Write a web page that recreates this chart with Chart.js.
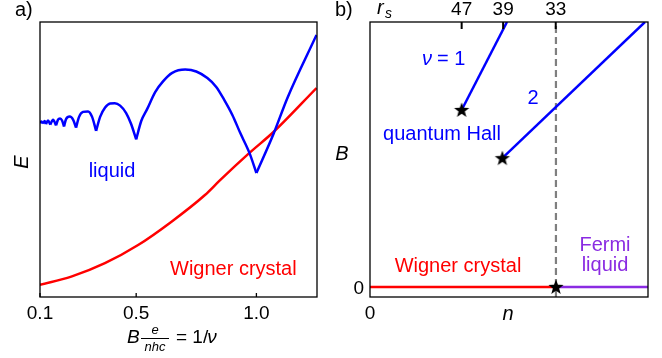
<!DOCTYPE html>
<html>
<head>
<meta charset="utf-8">
<script src="https://cdn.jsdelivr.net/npm/chart.js@4.4.1/dist/chart.umd.min.js"></script>
<style>
  body { margin: 0; background: #fff; }
  #wrap { display: flex; width: 662px; height: 358px; }
  canvas { display: block; }
</style>
</head>
<body>
<div id="wrap">
  <canvas id="panel-a" width="331" height="358"></canvas>
  <canvas id="panel-b" width="331" height="358"></canvas>
</div>
<script>
// a) energy of the two phases against 1/nu
const liquidX = [0.1, 0.106, 0.1125, 0.1196, 0.125, 0.1333, 0.1429, 0.1542, 0.1667, 0.175, 0.1833, 0.1917,
  0.2, 0.2083, 0.2238, 0.2375, 0.25, 0.2625, 0.279, 0.3, 0.3167, 0.3333, 0.35, 0.3708, 0.3917, 0.411,
  0.4333, 0.4583, 0.479, 0.5, 0.521, 0.546, 0.579, 0.6125, 0.65, 0.704, 0.75, 0.796, 0.833, 0.8667,
  0.9, 0.933, 0.971, 1.0, 1.071, 1.129, 1.25];
const liquidE = [6.33, 6.38, 6.31, 6.40, 6.29, 6.42, 6.27, 6.45, 6.24, 6.45, 6.49, 6.42,
  6.20, 6.47, 6.56, 6.45, 6.16, 6.55, 6.73, 6.75, 6.55, 6.04, 6.55, 6.89, 7.04, 7.05,
  6.96, 6.69, 6.29, 5.73, 6.40, 6.84, 7.45, 7.85, 8.15, 8.27, 8.20, 7.96, 7.64, 7.16,
  6.62, 5.96, 5.24, 4.51, 5.93, 7.24, 9.53];
// cusps of the liquid curve (integer filling), curve is smooth in between
const cuspX = [0.1125, 0.125, 0.1429, 0.1667, 0.2, 0.25, 0.3333, 0.5, 1.0];
const crystalX = [0.1, 0.23, 0.37, 0.508, 0.647, 0.786, 0.849, 0.971, 1.071, 1.25];
const crystalE = [0.44, 0.74, 1.23, 1.89, 2.74, 3.71, 4.25, 5.24, 6.0, 7.6];
const ticksA = [0.1, 0.5, 1.0];

// b) phase diagram in the (n, B) plane
const rsLabels = ['47', '39', '33'];
const rsN = [4.53, 6.58, 9.18];
const nu1N = [4.53, 6.77];
const nu1B = [6.68, 10.0];
const nu2N = [6.54, 13.59];
const nu2B = [4.86, 10.0];
const wignerN = [0, 9.19];
const fermiN = [9.19, 13.74];
const starN = [4.53, 6.54, 9.19];
const starB = [6.68, 4.86, 0];
const nCrit = 9.19;

const FONT = '"Liberation Sans", Arial, sans-serif';
const BLUE = '#0000ff';
const RED = '#ff0000';
const PURPLE = '#8a2be2';

const pts = (xs, ys) => xs.map((x, i) => ({ x: x, y: ys[i] }));

// cut the liquid curve into arches between cusps
function arches() {
    const all = pts(liquidX, liquidE);
    const out = [];
    let cur = [];
    all.forEach(p => {
        cur.push(p);
        if (cuspX.includes(p.x)) {
            out.push(cur);
            cur = [p];
        }
    });
    if (cur.length > 1) out.push(cur);
    return out;
}

function makeStar(size, R, r) {
    const c = document.createElement('canvas');
    c.width = c.height = size;
    const g = c.getContext('2d');
    g.beginPath();
    for (let i = 0; i < 10; i++) {
        const rad = i % 2 ? r : R;
        const a = -Math.PI / 2 + i * Math.PI / 5;
        g.lineTo(size / 2 + rad * Math.cos(a), size / 2 + 0.5 + rad * Math.sin(a));
    }
    g.closePath();
    g.fillStyle = '#000';
    g.fill();
    return c;
}

function text(ctx, str, x, y, font, color, align) {
    ctx.font = font;
    ctx.fillStyle = color;
    ctx.textAlign = align || 'left';
    ctx.textBaseline = 'alphabetic';
    ctx.fillText(str, x, y);
}

function drawFrame(ctx, a) {
    ctx.strokeStyle = '#000';
    ctx.lineWidth = 1.3;
    ctx.strokeRect(a.left, a.top, a.right - a.left, a.bottom - a.top);
}

const baseOptions = (xmin, xmax, ymin, ymax, pad) => ({
    responsive: false,
    animation: false,
    layout: { padding: pad },
    plugins: { legend: { display: false }, tooltip: { enabled: false } },
    scales: {
        x: { type: 'linear', min: xmin, max: xmax, display: false },
        y: { type: 'linear', min: ymin, max: ymax, display: false }
    }
});

// panel a decorations
const decorA = {
    id: 'decorA',
    afterDraw(chart) {
        const { ctx, chartArea: a, scales: { x } } = chart;
        ctx.save();
        drawFrame(ctx, a);
        ticksA.forEach(v => {
            const px = x.getPixelForValue(v);
            ctx.beginPath();
            ctx.moveTo(px, a.bottom);
            ctx.lineTo(px, a.bottom - 4);
            ctx.stroke();
            text(ctx, v.toFixed(1), px, a.bottom + 22, '19px ' + FONT, '#000', 'center');
        });
        text(ctx, 'a)', 15, 16, '20px ' + FONT, '#000');

        // y title, rotated
        ctx.save();
        ctx.translate(28, 162);
        ctx.rotate(-Math.PI / 2);
        text(ctx, 'E', 0, 0, 'italic 20px ' + FONT, '#000', 'center');
        ctx.restore();

        // x title: B e/(nhc) = 1/nu
        text(ctx, 'B', 127, 343, 'italic 19px ' + FONT, '#000');
        text(ctx, 'e', 155, 334, 'italic 13px ' + FONT, '#000', 'center');
        ctx.lineWidth = 1;
        ctx.beginPath();
        ctx.moveTo(141, 338.5);
        ctx.lineTo(169, 338.5);
        ctx.stroke();
        text(ctx, 'nhc', 155, 351, 'italic 13px ' + FONT, '#000', 'center');
        ctx.font = '19px ' + FONT;
        const w = ctx.measureText('= 1/').width;
        text(ctx, '= 1/', 176, 343, '19px ' + FONT, '#000');
        text(ctx, 'ν', 176 + w - 1, 343, 'italic 19px ' + FONT, '#000');

        text(ctx, 'liquid', 112, 177, '20px ' + FONT, BLUE, 'center');
        text(ctx, 'Wigner crystal', 170, 275, '20px ' + FONT, RED);
        ctx.restore();
    }
};

const liquidSets = arches().map(seg => ({
    data: seg, showLine: true, borderColor: BLUE, borderWidth: 2.5, pointRadius: 0,
    cubicInterpolationMode: 'monotone'
}));

new Chart(document.getElementById('panel-a'), {
    type: 'scatter',
    data: {
        datasets: liquidSets.concat([
            { data: pts(crystalX, crystalE), showLine: true, borderColor: RED, borderWidth: 2.5, pointRadius: 0, cubicInterpolationMode: 'monotone' }
        ])
    },
    options: baseOptions(0.1, 1.252, 0, 10, { left: 40, right: 14, top: 22, bottom: 61 }),
    plugins: [decorA]
});

// panel b decorations (canvas starts at page x = 331)
const decorB = {
    id: 'decorB',
    afterDraw(chart) {
        const { ctx, chartArea: a, scales: { x, y } } = chart;
        ctx.save();
        drawFrame(ctx, a);
        ctx.lineWidth = 2;
        rsN.forEach((v, i) => {
            const px = x.getPixelForValue(v);
            ctx.beginPath();
            ctx.moveTo(px, a.top);
            ctx.lineTo(px, a.top + 7);
            ctx.stroke();
            text(ctx, rsLabels[i], px, 15, '19px ' + FONT, '#000', 'center');
        });
        text(ctx, 'b)', 4, 16, '20px ' + FONT, '#000');
        text(ctx, 'r', 46, 14, 'italic 20px ' + FONT, '#000');
        text(ctx, 's', 54, 18, 'italic 14px ' + FONT, '#000');

        text(ctx, '0', x.getPixelForValue(0), a.bottom + 22, '19px ' + FONT, '#000', 'center');
        text(ctx, '0', a.left - 6, y.getPixelForValue(0) + 7, '19px ' + FONT, '#000', 'right');
        text(ctx, 'n', 177, 320, 'italic 20px ' + FONT, '#000', 'center');
        text(ctx, 'B', 11, 160, 'italic 20px ' + FONT, '#000', 'center');

        text(ctx, 'ν', 91, 65, 'italic 20px ' + FONT, BLUE);
        text(ctx, '= 1', 106, 65, '20px ' + FONT, BLUE);
        text(ctx, '2', 202, 104, '20px ' + FONT, BLUE, 'center');
        text(ctx, 'quantum Hall', 111, 140, '20px ' + FONT, BLUE, 'center');
        text(ctx, 'Wigner crystal', 127, 272, '20px ' + FONT, RED, 'center');
        text(ctx, 'Fermi', 274, 251, '20px ' + FONT, PURPLE, 'center');
        text(ctx, 'liquid', 274, 271, '20px ' + FONT, PURPLE, 'center');
        ctx.restore();
    }
};

new Chart(document.getElementById('panel-b'), {
    type: 'scatter',
    data: {
        datasets: [
            { data: pts(starN, starB), pointStyle: makeStar(20, 8, 3.3), pointRadius: 10, clip: false },
            { data: pts(nu1N, nu1B), showLine: true, borderColor: BLUE, borderWidth: 2.5, pointRadius: 0 },
            { data: pts(nu2N, nu2B), showLine: true, borderColor: BLUE, borderWidth: 2.5, pointRadius: 0 },
            { data: pts(wignerN, [0, 0]), showLine: true, borderColor: RED, borderWidth: 2.5, pointRadius: 0 },
            { data: pts(fermiN, [0, 0]), showLine: true, borderColor: PURPLE, borderWidth: 2.5, pointRadius: 0 },
            { data: pts([nCrit, nCrit], [-0.38, 10]), showLine: true, borderColor: '#7f7f7f', borderWidth: 2.2, borderDash: [7, 4], pointRadius: 0 }
        ]
    },
    options: baseOptions(0, 13.74, -0.38, 10, { left: 39, right: 14, top: 22, bottom: 61 }),
    plugins: [decorB]
});
</script>
</body>
</html>
